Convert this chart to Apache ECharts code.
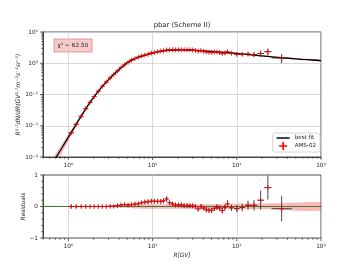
<!DOCTYPE html>
<html><head><meta charset="utf-8">
<script src="https://cdn.jsdelivr.net/npm/echarts@6/dist/echarts.min.js"></script>
<style>html,body{margin:0;padding:0;background:#fff}#c{width:357px;height:268px}</style>
</head><body><div id="c"></div>
<script>
// ---------- data ----------
const binEdges = [1.00,1.16,1.33,1.51,1.71,1.92,2.15,2.40,2.67,2.97,3.29,3.64,4.02,4.43,4.88,5.37,5.90,6.47,7.09,7.76,8.48,9.26,10.1,11.0,12.0,13.0,14.1,15.3,16.6,18.0,19.5,21.1,22.8,24.7,26.7,28.8,31.1,33.5,36.1,38.9,41.9,45.1,48.5,52.2,56.1,60.3,64.8,69.7,74.9,80.5,93.0,108,125,147,175,211,259,450];
const rigidity = [1.08,1.24,1.42,1.61,1.81,2.03,2.27,2.53,2.82,3.13,3.46,3.83,4.22,4.65,5.12,5.63,6.18,6.77,7.41,8.10,8.86,9.67,10.5,11.5,12.5,13.5,14.7,15.9,17.3,18.7,20.3,21.9,23.7,25.7,27.7,29.9,32.3,34.8,37.5,40.4,43.5,46.8,50.3,54.1,58.2,62.5,67.2,72.3,77.6,86.5,100,116,136,160,192,234,341];
const flux = [0.0060,0.0112,0.0200,0.0350,0.0560,0.0860,0.128,0.183,0.252,0.335,0.44,0.57,0.73,0.89,1.07,1.27,1.42,1.57,1.70,1.82,1.95,2.12,2.22,2.35,2.45,2.53,2.67,2.66,2.69,2.70,2.72,2.72,2.70,2.70,2.68,2.65,2.58,2.45,2.55,2.44,2.30,2.25,2.22,2.27,2.28,2.20,2.06,2.13,2.32,2.08,1.95,1.94,1.96,1.90,2.05,2.35,1.47];
const fluxErr = [0.0004,0.0006,0.0008,0.0012,0.0017,0.0026,0.0038,0.0055,0.0076,0.010,0.015,0.020,0.029,0.036,0.048,0.064,0.071,0.086,0.10,0.11,0.13,0.15,0.16,0.16,0.17,0.18,0.21,0.19,0.19,0.19,0.19,0.19,0.19,0.19,0.19,0.19,0.18,0.17,0.19,0.18,0.18,0.18,0.18,0.19,0.21,0.20,0.21,0.21,0.26,0.21,0.21,0.23,0.27,0.32,0.45,0.6,0.48];
const residual = [0,0,0,0,0,0,0,0,0,0.01,0.01,0.03,0.05,0.06,0.05,0.06,0.08,0.09,0.12,0.14,0.15,0.17,0.17,0.17,0.16,0.18,0.24,0.12,0.08,0.05,0.05,0.05,0.03,0.03,0.02,0.02,0.0,-0.08,0.0,-0.05,-0.10,-0.12,-0.12,-0.06,-0.02,-0.05,-0.13,-0.03,0.09,-0.04,-0.07,-0.03,0.04,0.04,0.20,0.60,-0.07];
const residualErr = [0.06,0.05,0.04,0.035,0.03,0.03,0.03,0.03,0.03,0.03,0.035,0.035,0.04,0.04,0.045,0.05,0.05,0.055,0.06,0.06,0.065,0.07,0.07,0.07,0.07,0.07,0.08,0.07,0.07,0.07,0.07,0.07,0.07,0.07,0.07,0.07,0.07,0.07,0.075,0.075,0.08,0.08,0.08,0.085,0.09,0.09,0.10,0.10,0.11,0.10,0.11,0.12,0.14,0.17,0.30,0.38,0.40];
const fitR = [0.6,0.72,0.85,1.0,1.12,1.26,1.42,1.62,1.85,2.08,2.45,2.89,3.4,3.98,4.94,5.6,6.4,7.3,8.4,9.7,11.1,13,15.5,18.5,22,27,33,40,50,65,80,100,130,170,230,300,420,600,800,1000];
const fitFlux = [4.4e-4,1.0e-3,2.09e-3,4.3e-3,7.1e-3,0.0120,0.0203,0.036,0.0604,0.094,0.163,0.268,0.419,0.62,1.02,1.24,1.45,1.65,1.85,2.06,2.26,2.44,2.57,2.64,2.67,2.65,2.58,2.50,2.40,2.27,2.17,2.05,1.92,1.80,1.66,1.55,1.43,1.33,1.27,1.22];
const fitBandRel = [0.45,0.40,0.33,0.25,0.20,0.15,0.11,0.08,0.06,0.05,0.04,0.035,0.03,0.03,0.03,0.03,0.03,0.03,0.03,0.03,0.03,0.03,0.03,0.03,0.03,0.03,0.03,0.03,0.03,0.03,0.03,0.035,0.04,0.045,0.05,0.055,0.06,0.07,0.075,0.08];
const residBandR = [0.5,1,2,3,4,6,10,20,40,100,300,1000];
const residBandHalf = [0.005,0.008,0.01,0.015,0.04,0.06,0.07,0.07,0.07,0.08,0.10,0.13];
const chi2Text = '\u03c7\u00b2 = 62.50';
const titleText = 'pbar (Scheme II)';
const yAxisTitle = 'R\u00b2\u00b7\u2077dN/dR(GV\u00b9\u00b7\u2077m\u207b\u00b2s\u207b\u00b9sr\u207b\u00b9)';
const xAxisTitle = 'R[GV]';
const residAxisTitle = 'Residuals';
const xDecadeTicks = [1,10,100,1000];
const yDecadeTicks = [0.001,0.01,0.1,1,10];
const residTicks = [-1,0,1];
const residMinorTicks = [-0.8,-0.6,-0.4,-0.2,0.2,0.4,0.6,0.8];

// ---------- helpers ----------
const FONT = 'DejaVu Sans';
const TXT = '#222';
const SUP = {'0':'\u2070','1':'\u00b9','2':'\u00b2','3':'\u00b3','4':'\u2074','5':'\u2075','6':'\u2076','7':'\u2077','8':'\u2078','9':'\u2079','-':'\u207b'};
function isPow10(v){ const l = Math.log10(v); return Math.abs(l - Math.round(l)) < 1e-6; }
function powLabel(v){
  if (!isPow10(v)) return '';
  const e = String(Math.round(Math.log10(v)));
  return '10' + e.split('').map(c => SUP[c]).join('');
}

const errData = rigidity.map((r, i) => [r, flux[i], binEdges[i], binEdges[i+1], flux[i] - fluxErr[i], flux[i] + fluxErr[i]]);
const resErrData = rigidity.map((r, i) => [r, residual[i], binEdges[i], binEdges[i+1], residual[i] - residualErr[i], residual[i] + residualErr[i]]);
const dataPts = rigidity.map((r, i) => [r, flux[i]]);
const resPts = rigidity.map((r, i) => [r, residual[i]]);
const fitLine = fitR.map((r, i) => [r, fitFlux[i]]);
const fitLo = fitFlux.map((f, i) => f * (1 - fitBandRel[i]));
const fitHi = fitFlux.map((f, i) => f * (1 + fitBandRel[i]));
const resLo = residBandHalf.map(h => -h);
const resHi = residBandHalf.slice();

function bandRender(xs, lo, hi, color){
  return function(params, api){
    if (params.dataIndex !== 0) return null;
    const pts = [];
    for (let i = 0; i < xs.length; i++) pts.push(api.coord([xs[i], hi[i]]));
    for (let i = xs.length - 1; i >= 0; i--) pts.push(api.coord([xs[i], lo[i]]));
    return {type: 'polygon', shape: {points: pts, smooth: 0.2}, style: {fill: color}};
  };
}
function errRender(params, api){
  const x = api.value(0), y = api.value(1);
  const a = api.coord([api.value(2), y]), b = api.coord([api.value(3), y]);
  const c = api.coord([x, api.value(4)]), d = api.coord([x, api.value(5)]);
  const st = {stroke: '#1a1a1a', lineWidth: 0.8};
  return {type: 'group', children: [
    {type: 'line', shape: {x1: a[0], y1: a[1], x2: b[0], y2: b[1]}, style: st},
    {type: 'line', shape: {x1: c[0], y1: c[1], x2: d[0], y2: d[1]}, style: st}
  ]};
}
function tickRender(params, api){
  const cs = params.coordSys;
  const kind = api.value(2), maj = api.value(3);
  const len = maj ? 3 : 1.7;
  const p = api.coord([api.value(0), api.value(1)]);
  const st = {stroke: '#222', lineWidth: 0.7};
  if (kind === 0) {
    const y0 = cs.y + cs.height;
    return {type: 'line', shape: {x1: p[0], y1: y0, x2: p[0], y2: y0 + len}, style: st};
  }
  const x0 = cs.x;
  return {type: 'line', shape: {x1: x0 - len, y1: p[1], x2: x0, y2: p[1]}, style: st};
}
function logMinor(lo, hi){
  const out = [];
  for (let e = Math.floor(Math.log10(lo)); e <= Math.ceil(Math.log10(hi)); e++) {
    for (let m = 2; m <= 9; m++) { const v = m * Math.pow(10, e); if (v >= lo - 1e-12 && v <= hi + 1e-12) out.push(v); }
  }
  return out;
}
const xMinor = logMinor(0.5, 1000);
const topTicks = [];
xDecadeTicks.forEach(v => topTicks.push([v, 1, 0, 1]));
xMinor.forEach(v => topTicks.push([v, 1, 0, 0]));
yDecadeTicks.forEach(v => topTicks.push([1, v, 1, 1]));
logMinor(0.001, 10).forEach(v => topTicks.push([1, v, 1, 0]));
const botTicks = [];
xDecadeTicks.forEach(v => botTicks.push([v, 0, 0, 1]));
xMinor.forEach(v => botTicks.push([v, 0, 0, 0]));
residTicks.forEach(v => botTicks.push([1, v, 1, 1]));
residMinorTicks.forEach(v => botTicks.push([1, v, 1, 0]));

const plusPath = 'path://M0,4H10V6H0Z M4,0H6V10H4Z';

// ---------- chart ----------
const chart = echarts.init(document.getElementById('c'), null, {renderer: 'canvas', width: 357, height: 268});
const xAxisBase = {
  type: 'log', logBase: 10, min: 0.5, max: 1000,
  axisLine: {show: true, lineStyle: {color: '#222', width: 0.8}},
  axisTick: {show: false}, minorTick: {show: false},
  axisLabel: {formatter: powLabel, margin: 5, color: TXT, fontSize: 5.8, fontFamily: FONT},
  splitLine: {show: true, lineStyle: {color: '#cfcfcf', width: 0.8}},
  minorSplitLine: {show: false}
};
chart.setOption({
  animation: false,
  backgroundColor: '#fff',
  textStyle: {fontFamily: FONT},
  grid: [
    {left: 43, top: 32, width: 278, height: 125, show: true, borderColor: '#222', borderWidth: 0.8, backgroundColor: 'transparent'},
    {left: 43, top: 175, width: 278, height: 63, show: true, borderColor: '#222', borderWidth: 0.8, backgroundColor: 'transparent'}
  ],
  xAxis: [
    Object.assign({}, xAxisBase, {gridIndex: 0}),
    Object.assign({}, xAxisBase, {gridIndex: 1, name: xAxisTitle, nameLocation: 'middle', nameGap: 14, nameMoveOverlap: false,
      nameTextStyle: {fontSize: 5.8, fontStyle: 'italic', color: TXT, fontFamily: FONT}})
  ],
  yAxis: [
    {gridIndex: 0, type: 'log', logBase: 10, min: 0.001, max: 10,
      axisLine: {show: true, lineStyle: {color: '#222', width: 0.8}},
      axisTick: {show: false}, minorTick: {show: false},
      axisLabel: {formatter: powLabel, margin: 5, color: TXT, fontSize: 5.8, fontFamily: FONT},
      splitLine: {show: true, lineStyle: {color: '#cfcfcf', width: 0.8}},
      name: yAxisTitle, nameLocation: 'middle', nameGap: 22, nameRotate: 90, nameMoveOverlap: false,
      nameTextStyle: {fontSize: 6.1, fontStyle: 'italic', color: TXT, fontFamily: FONT}
    },
    {gridIndex: 1, type: 'value', min: -1, max: 1, interval: 1,
      axisLine: {show: true, lineStyle: {color: '#222', width: 0.8}},
      axisTick: {show: false},
      axisLabel: {formatter: v => (v < 0 ? '\u2212' + (-v) : String(v)), fontSize: 5.8, color: TXT, margin: 5, fontFamily: FONT},
      splitLine: {show: false},
      name: residAxisTitle, nameLocation: 'middle', nameGap: 17, nameRotate: 90, nameMoveOverlap: false,
      nameTextStyle: {fontSize: 5.8, fontStyle: 'italic', color: TXT, fontFamily: FONT}
    }
  ],
  legend: {
    orient: 'vertical', right: 37, top: 133, padding: [2, 4, 2, 4], itemGap: 1,
    itemWidth: 13, itemHeight: 8,
    borderColor: '#cccccc', borderWidth: 0.8, borderRadius: 2, backgroundColor: 'rgba(255,255,255,0.85)',
    textStyle: {fontSize: 5.6, color: TXT, fontFamily: FONT},
    data: [
      {name: 'best fit', icon: 'path://M0,0H13V1.8H0Z', itemStyle: {color: '#333'}},
      {name: 'AMS-02', icon: plusPath, itemStyle: {color: '#ff0000'}}
    ]
  },
  graphic: [
    {type: 'text', x: 182, y: 25, style: {text: titleText, fontSize: 6.8, fill: TXT, fontFamily: FONT, align: 'center', verticalAlign: 'middle'}},
    {type: 'rect', shape: {x: 54, y: 39, width: 38, height: 13}, style: {fill: 'rgba(245,140,140,0.45)', stroke: 'rgba(215,100,100,0.75)', lineWidth: 0.8}},
    {type: 'text', x: 73, y: 45.5, style: {text: chi2Text, fontSize: 5.8, fontFamily: FONT, fill: TXT, align: 'center', verticalAlign: 'middle'}}
  ],
  series: [
    {type: 'custom', name: 'fitBand', xAxisIndex: 0, yAxisIndex: 0, clip: true, silent: true, z: 1,
      renderItem: bandRender(fitR, fitLo, fitHi, 'rgba(240,70,70,0.38)'), data: [[fitR[0], fitFlux[0]]]},
    {type: 'line', name: 'best fit', xAxisIndex: 0, yAxisIndex: 0, data: fitLine, showSymbol: false, smooth: 0.25,
      lineStyle: {color: '#000', width: 1.3}, itemStyle: {color: '#333'}, clip: true, z: 3},
    {type: 'custom', name: 'AMS-02', xAxisIndex: 0, yAxisIndex: 0, renderItem: errRender, data: errData,
      encode: {x: [0, 2, 3], y: [1, 4, 5]}, itemStyle: {color: '#ff0000'}, z: 4, silent: true},
    {type: 'scatter', name: 'AMS-02', xAxisIndex: 0, yAxisIndex: 0, data: dataPts, symbol: plusPath, symbolSize: 5,
      itemStyle: {color: '#ff0000'}, z: 5},
    {type: 'custom', name: 'ticksTop', xAxisIndex: 0, yAxisIndex: 0, renderItem: tickRender, data: topTicks, silent: true, z: 6},

    {type: 'custom', name: 'resBand', xAxisIndex: 1, yAxisIndex: 1, clip: true, silent: true, z: 1,
      renderItem: bandRender(residBandR, resLo, resHi, 'rgba(240,70,70,0.38)'), data: [[residBandR[0], 0]]},
    {type: 'line', name: 'zero', xAxisIndex: 1, yAxisIndex: 1, data: [[0.5, 0], [1000, 0]], showSymbol: false,
      lineStyle: {color: '#2e8b2e', width: 1.2, type: [5, 2.5]}, z: 3},
    {type: 'custom', name: 'resErr', xAxisIndex: 1, yAxisIndex: 1, renderItem: errRender, data: resErrData,
      encode: {x: [0, 2, 3], y: [1, 4, 5]}, z: 4, silent: true},
    {type: 'scatter', name: 'resPts', xAxisIndex: 1, yAxisIndex: 1, data: resPts, symbol: plusPath, symbolSize: 5,
      itemStyle: {color: '#ff0000'}, z: 5},
    {type: 'custom', name: 'ticksBot', xAxisIndex: 1, yAxisIndex: 1, renderItem: tickRender, data: botTicks, silent: true, z: 6}
  ]
});
</script></body></html>
